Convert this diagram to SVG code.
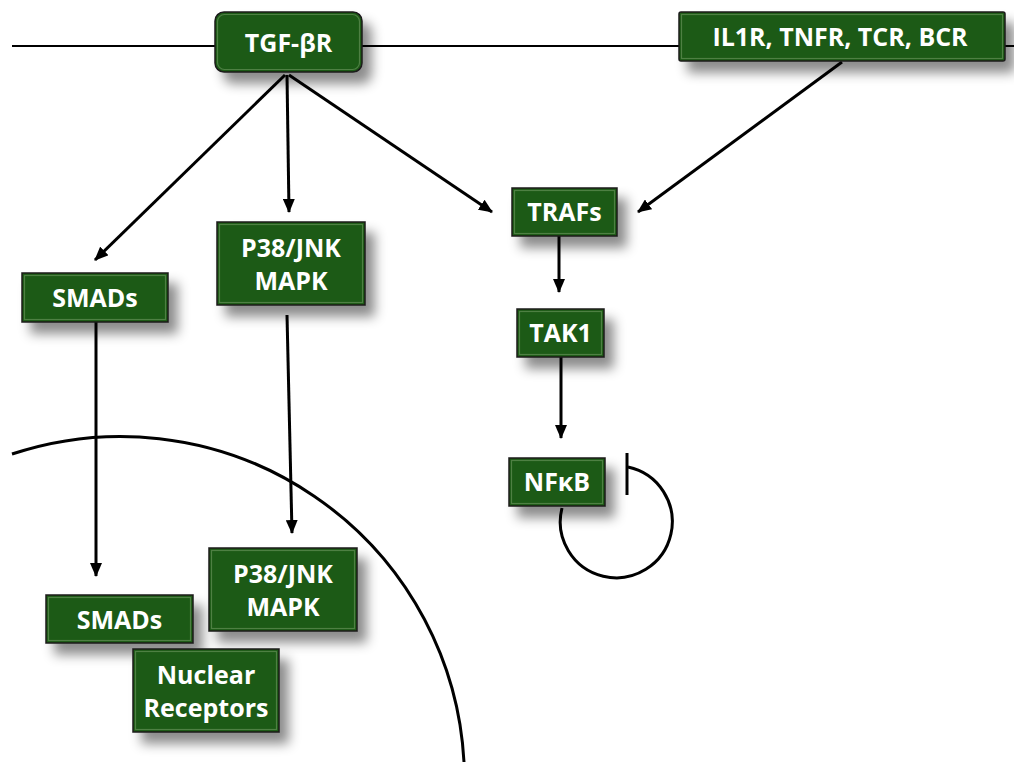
<svg xmlns="http://www.w3.org/2000/svg" width="1014" height="762" viewBox="0 0 1014 762">
<defs>
<filter id="sh" x="-30%" y="-30%" width="170%" height="190%">
<feDropShadow dx="9" dy="11" stdDeviation="6" flood-color="#000" flood-opacity="0.45"/>
</filter>
<marker id="ah" viewBox="0 0 14 12" refX="13" refY="6" markerWidth="14" markerHeight="12" markerUnits="userSpaceOnUse" orient="auto">
<path d="M0,0 L14,6 L0,12 Z" fill="#000"/>
</marker>
</defs>
<style>
.box{fill:#1f5a19;stroke:#1a1a1a;stroke-width:1.5;filter:url(#sh)}
.bev{fill:none;stroke:#6f9a62;stroke-opacity:0.6;stroke-width:1.2}
.t{font-family:"Open Sans","Liberation Sans",sans-serif;font-weight:bold;font-size:25px;fill:#fff;text-anchor:middle}
.c{stroke:#000;stroke-width:3;fill:none}
.a{stroke:#000;stroke-width:3;fill:none;marker-end:url(#ah)}
</style>
<rect width="1014" height="762" fill="#fff"/>
<g id="membrane">
<line x1="12" y1="46" x2="1014" y2="46" stroke="#000" stroke-width="2"/>
</g>
<g id="nucleus">
<path class="c" d="M12,454 A344,344 0 0 1 464,762"/>
</g>
<g id="connectors">
<line class="a" x1="285" y1="75" x2="95" y2="260"/>
<line class="a" x1="287" y1="75" x2="289" y2="212"/>
<line class="a" x1="289" y1="75" x2="492" y2="212"/>
<line class="a" x1="842" y1="62" x2="638" y2="212"/>
<line class="a" x1="559" y1="236" x2="559" y2="292"/>
<line class="a" x1="561" y1="357" x2="561" y2="438"/>
<line class="a" x1="96" y1="322" x2="96" y2="576"/>
<line class="a" x1="287" y1="315" x2="292" y2="533"/>
<path class="c" d="M562,508 A56,56 0 1 0 628,467"/>
<line class="c" x1="627" y1="453" x2="627" y2="495"/>
</g>
<g id="tgfbr">
<rect class="box" x="215" y="12" width="147" height="60" rx="9"/>
<rect class="bev" x="217.5" y="14.5" width="142" height="55" rx="7"/>
<text class="t" x="288.5" y="52">TGF-βR</text>
</g>
<g id="il1r">
<rect class="box" x="679" y="12" width="326" height="49" rx="2"/>
<rect class="bev" x="681.5" y="14.5" width="321" height="44"/>
<text class="t" x="840" y="46">IL1R, TNFR, TCR, BCR</text>
</g>
<g id="smads1">
<rect class="box" x="22" y="273" width="146" height="49"/>
<rect class="bev" x="24.5" y="275.5" width="141" height="44"/>
<text class="t" x="95" y="307">SMADs</text>
</g>
<g id="p38a">
<rect class="box" x="217" y="222" width="148" height="83"/>
<rect class="bev" x="219.5" y="224.5" width="143" height="78"/>
<text class="t" x="291" y="257">P38/JNK</text>
<text class="t" x="291" y="290">MAPK</text>
</g>
<g id="trafs">
<rect class="box" x="512" y="188" width="105" height="48"/>
<rect class="bev" x="514.5" y="190.5" width="100" height="43"/>
<text class="t" x="564.5" y="221">TRAFs</text>
</g>
<g id="tak1">
<rect class="box" x="517" y="309" width="87" height="48"/>
<rect class="bev" x="519.5" y="311.5" width="82" height="43"/>
<text class="t" x="560.5" y="342">TAK1</text>
</g>
<g id="nfkb">
<rect class="box" x="509" y="458" width="96" height="48"/>
<rect class="bev" x="511.5" y="460.5" width="91" height="43"/>
<text class="t" x="557" y="491">NFκB</text>
</g>
<g id="smads2">
<rect class="box" x="46" y="595" width="147" height="48"/>
<rect class="bev" x="48.5" y="597.5" width="142" height="43"/>
<text class="t" x="119.5" y="629">SMADs</text>
</g>
<g id="p38b">
<rect class="box" x="209" y="548" width="148" height="83"/>
<rect class="bev" x="211.5" y="550.5" width="143" height="78"/>
<text class="t" x="283" y="583">P38/JNK</text>
<text class="t" x="283" y="616">MAPK</text>
</g>
<g id="nuclear">
<rect class="box" x="133" y="649" width="146" height="83"/>
<rect class="bev" x="135.5" y="651.5" width="141" height="78"/>
<text class="t" x="206" y="684">Nuclear</text>
<text class="t" x="206" y="717">Receptors</text>
</g>
</svg>
